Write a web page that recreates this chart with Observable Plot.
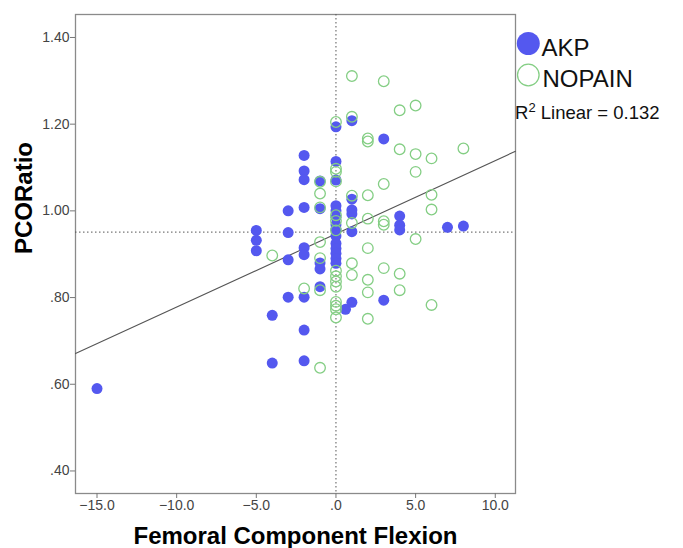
<!DOCTYPE html>
<html>
<head>
<meta charset="utf-8">
<script src="https://cdn.jsdelivr.net/npm/d3@7"></script>
<script src="https://cdn.jsdelivr.net/npm/@observablehq/plot@0.6"></script>
<style>
  html, body { margin: 0; padding: 0; background: #fff; }
  #wrap { position: relative; width: 683px; height: 548px; font-family: "Liberation Sans", Arial, sans-serif; }
  #wrap svg { position: absolute; left: 0; top: 0; }
</style>
</head>
<body>
<div id="wrap"></div>
<script>
// ---- Data ----
const akpX = [-15,
  -5, -5, -5,
  -4, -4,
  -3, -3, -3, -3,
  -2, -2, -2, -2, -2, -2, -2, -2, -2,
  -1, -1, -1, -1, -1,
  0, 0, 0, 0, 0, 0, 0, 0, 0, 0, 0, 0, 0, 0,
  0.6,
  1, 1, 1, 1, 1, 1,
  3, 3,
  4, 4, 4,
  7, 8];
const akpY = [0.590,
  0.955, 0.932, 0.908,
  0.759, 0.649,
  1.000, 0.950, 0.887, 0.801,
  1.128, 1.092, 1.072, 1.008, 0.915, 0.899, 0.801, 0.725, 0.654,
  1.069, 1.005, 0.880, 0.866, 0.825,
  1.194, 1.114, 1.071, 1.012, 1.000, 0.985, 0.968, 0.958, 0.942, 0.925, 0.913, 0.902, 0.890, 0.879,
  0.773,
  1.208, 1.027, 1.002, 0.993, 0.952, 0.789,
  1.166, 0.794,
  0.988, 0.967, 0.956,
  0.962, 0.965];

const nopainX = [-4,
  -2,
  -1, -1, -1, -1, -1, -1, -1,
  0, 0, 0, 0, 0, 0, 0, 0, 0, 0, 0, 0, 0, 0, 0,
  1, 1, 1, 1, 1, 1,
  2, 2, 2, 2, 2, 2, 2, 2,
  3, 3, 3, 3, 3,
  4, 4, 4, 4,
  5, 5, 5, 5,
  6, 6, 6, 6,
  8];
const nopainY = [0.897,
  0.821,
  1.067, 1.040, 1.008, 0.928, 0.891, 0.817, 0.638,
  1.205, 1.097, 1.090, 1.068, 0.990, 0.977, 0.955, 0.862, 0.849, 0.837, 0.825, 0.790, 0.781, 0.773, 0.754,
  1.311, 1.217, 1.035, 0.972, 0.879, 0.852,
  1.167, 1.160, 1.036, 0.982, 0.914, 0.841, 0.812, 0.751,
  1.299, 1.062, 0.976, 0.968, 0.868,
  1.232, 1.142, 0.855, 0.817,
  1.243, 1.131, 1.090, 0.935,
  1.121, 1.037, 1.003, 0.783,
  1.144];

const groups = ["AKP", "NOPAIN"];
const xTicks = [-15, -10, -5, 0, 5, 10];
const yTicks = [0.40, 0.60, 0.80, 1.00, 1.20, 1.40];
const xDomain = [-16.35, 11.27];
const yDomain = [0.348, 1.453];
const refX = [0];
const refY = [0.951];
const fitIntercept = 0.947;
const fitSlope = 0.0169;
const rSquared = "0.132";

// ---- Build tables ----
const akp = akpX.map((x, i) => ({x, y: akpY[i], group: groups[0]}));
const nopain = nopainX.map((x, i) => ({x, y: nopainY[i], group: groups[1]}));
const fitLine = xDomain.map(x => ({x, y: fitIntercept + fitSlope * x}));

const blue = "#5458EF";
const green = "#84CE84";

const fmtX = d => d3.format(".1f")(d).replace(/^(-?)0\./, "$1.");
const fmtY = d => d3.format(".2f")(d).replace(/^(-?)0\./, "$1.");

const chart = Plot.plot({
  width: 683,
  height: 548,
  marginLeft: 75,
  marginRight: 168,
  marginTop: 14,
  marginBottom: 55,
  style: {fontFamily: "'Liberation Sans', Arial, sans-serif", fontSize: "14px", background: "white", overflow: "visible"},
  x: {domain: xDomain},
  y: {domain: yDomain},
  marks: [
    Plot.frame({stroke: "#8a8a8a", strokeWidth: 1.3}),
    Plot.axisX(xTicks, {tickFormat: fmtX, tickSize: 5, tickPadding: 2, stroke: "#777", fill: "#444", fontSize: 14, label: null}),
    Plot.axisY(yTicks, {tickFormat: fmtY, tickSize: 5, tickPadding: 1, stroke: "#777", fill: "#444", fontSize: 14, label: null}),
    Plot.ruleX(refX, {stroke: "#555", strokeWidth: 1, strokeDasharray: "1.5,2.5"}),
    Plot.ruleY(refY, {stroke: "#555", strokeWidth: 1, strokeDasharray: "1.5,2.5"}),
    Plot.line(fitLine, {x: "x", y: "y", stroke: "#555", strokeWidth: 1.1}),
    Plot.dot(akp, {x: "x", y: "y", r: 5.5, fill: blue, stroke: "none"}),
    Plot.dot(nopain, {x: "x", y: "y", r: 5.3, fill: "none", stroke: green, strokeWidth: 1.3}),
    Plot.text(["PCORatio"], {frameAnchor: "left", dx: -51, rotate: -90, fontSize: 24, fontWeight: "bold", fill: "#000"}),
    Plot.text(["Femoral Component Flexion"], {frameAnchor: "bottom", dy: 50, lineAnchor: "bottom", fontSize: 24, fontWeight: "bold", fill: "#000"})
  ]
});
const wrap = document.getElementById("wrap");
wrap.appendChild(chart);

// ---- Legend overlay ----
const svg = d3.select(wrap).append("svg")
  .attr("width", 683).attr("height", 548)
  .style("pointer-events", "none")
  .style("font-family", "'Liberation Sans', Arial, sans-serif");
const leg = [
  {label: groups[0], cy: 43.5, fill: blue, stroke: "none", tx: 541.5, ty: 56},
  {label: groups[1], cy: 75, fill: "none", stroke: green, tx: 542.5, ty: 87.3}
];
leg.forEach(d => {
  svg.append("circle").attr("cx", 528.3).attr("cy", d.cy).attr("r", d.fill === "none" ? 10.8 : 11.5)
    .attr("fill", d.fill).attr("stroke", d.stroke).attr("stroke-width", 1.3);
  svg.append("text").attr("x", d.tx).attr("y", d.ty).attr("font-size", 24).attr("fill", "#111").text(d.label);
});
const r2 = svg.append("text").attr("x", 515).attr("y", 119.3).attr("font-size", 18.5).attr("fill", "#111");
r2.append("tspan").text("R");
r2.append("tspan").attr("font-size", 13).attr("dy", -7).text("2");
r2.append("tspan").attr("dy", 7).text(" Linear = " + rSquared);
</script>
</body>
</html>
